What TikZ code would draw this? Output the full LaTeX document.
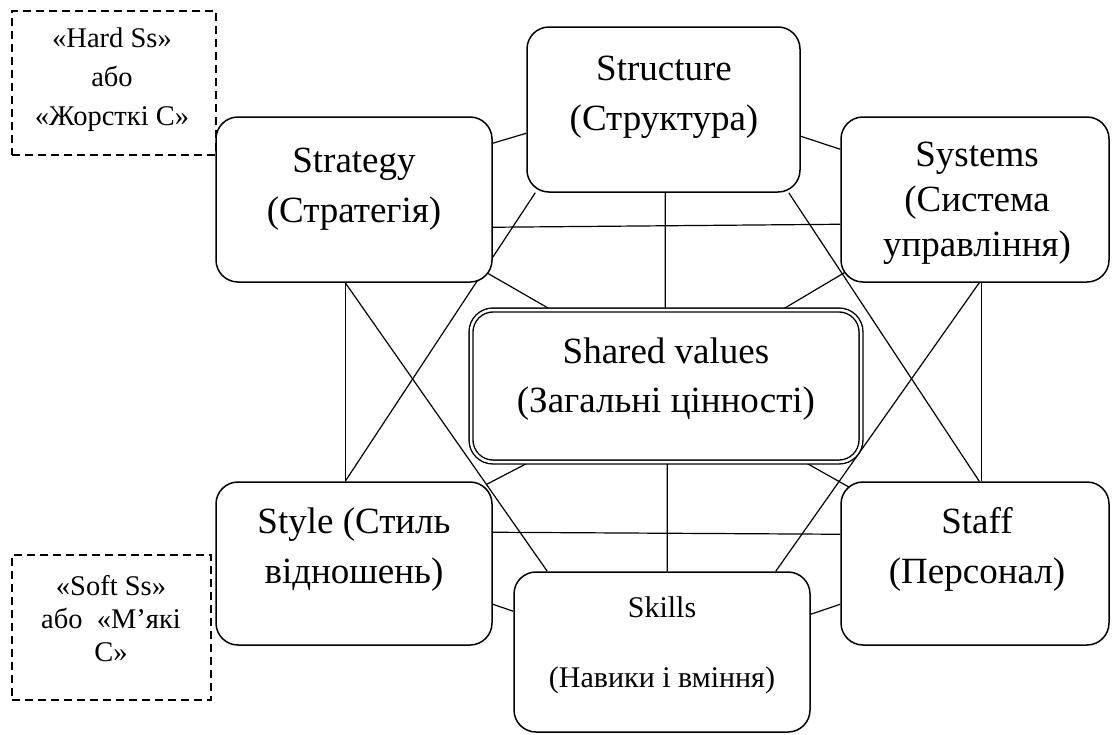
\documentclass[tikz,border=0pt]{standalone}
\usepackage{fontspec}
\setmainfont{Liberation Serif}
\usetikzlibrary{calc}
\pgfdeclarelayer{bg}
\pgfsetlayers{bg,main}
\begin{document}
\begin{tikzpicture}[x=1pt,y=-1pt,
  sbox/.style={draw, line width=1.5pt, rounded corners=22pt, fill=white, inner sep=0pt},
  conn/.style={line width=1.2pt},
  dbox/.style={draw, line width=1.3pt, dash pattern=on 8pt off 5pt, inner sep=0pt},
  bigtxt/.style={font=\fontsize{37}{50}\selectfont, align=center, inner sep=0pt},
  midtxt/.style={font=\fontsize{30}{70}\selectfont, align=center, inner sep=0pt},
  smalltxt/.style={font=\fontsize{28.5}{39}\selectfont, align=center, inner sep=0pt}]
\useasboundingbox (0,0) rectangle (1113,734);

% boxes
\node[sbox, minimum width=276pt, minimum height=165pt] (strategy) at (354,199.5) {};
\node[sbox, minimum width=273pt, minimum height=165pt] (structure) at (663.5,109.5) {};
\node[sbox, minimum width=268pt, minimum height=165pt] (systems) at (975,199.5) {};
\node[draw, double, double distance=2.5pt, line width=1.4pt, rounded corners=22pt, fill=white, inner sep=0pt,
      minimum width=390pt, minimum height=152pt] (shared) at (666,386) {};
\node[sbox, minimum width=276pt, minimum height=163pt] (style) at (354,563.5) {};
\node[sbox, minimum width=268pt, minimum height=163pt] (staff) at (975,563.5) {};
\node[sbox, minimum width=296pt, minimum height=160pt] (skills) at (662,652) {};

% texts
\node[bigtxt] (structureT) at (664,97) {Structure\\(Структура)};
\node[bigtxt] (strategyT) at (354,189) {Strategy\\(Стратегія)};
\node[bigtxt, font=\fontsize{37}{45}\selectfont] (systemsT) at (977,203) {Systems\\(Система\\управління)};
\node[bigtxt, font=\fontsize{37}{49}\selectfont] (sharedT) at (666,379) {Shared values\\(Загальні цінності)};
\node[bigtxt] (styleT) at (354,550) {Style (Стиль\\відношень)};
\node[bigtxt] (staffT) at (977,549) {Staff\\(Персонал)};
\node[midtxt] (skillsT) at (662,645) {Skills\\(Навики і вміння)};

\begin{pgfonlayer}{bg}
\node[dbox, minimum width=204pt, minimum height=144pt] (hard) at (114,83) {};
\node[dbox, minimum width=199pt, minimum height=145pt] (soft) at (111.5,627.5) {};

\draw[conn] ($(strategy.north east)+(0,27)$) -- ($(structure.north west)+(0,107)$);
\draw[conn] ($(strategy.north east)+(0,111)$) -- ($(systems.north west)+(0,108)$);
\draw[conn] ($(strategy.south east)+(-6,-10)$) -- ($(shared.north west)+(80,0)$);
\draw[conn] ($(strategy.south west)+(130,0)$) -- ($(style.north west)+(130,0)$);
\draw[conn] ($(strategy.south west)+(130,0)$) -- ($(skills.north west)+(34,0)$);
\draw[conn] ($(structure.south west)+(9,0)$) -- ($(style.north west)+(130,0)$);
\draw[conn] ($(structure.south west)+(139,0)$) -- ($(shared.north west)+(195,0)$);
\draw[conn] ($(structure.north east)+(0,110)$) -- ($(systems.north west)+(0,33)$);
\draw[conn] ($(structure.south east)+(-12,0)$) -- ($(staff.north west)+(139,0)$);
\draw[conn] ($(systems.south west)+(4,-10)$) -- ($(shared.north east)+(-79,0)$);
\draw[conn] ($(systems.south west)+(141,0)$) -- ($(staff.north west)+(141,0)$);
\draw[conn] ($(systems.south west)+(139,0)$) -- ($(skills.north east)+(-35,0)$);
\draw[conn] ($(style.north east)+(-6,3)$) -- ($(shared.south west)+(58,0)$);
\draw[conn] ($(style.north east)+(0,51)$) -- ($(staff.north west)+(0,53)$);
\draw[conn] ($(style.north east)+(0,123)$) -- ($(skills.north west)+(0,40)$);
\draw[conn] ($(shared.south west)+(197,0)$) -- ($(skills.north west)+(154,0)$);
\draw[conn] ($(shared.south east)+(-56,0)$) -- ($(staff.north west)+(9,6)$);
\draw[conn] ($(skills.north east)+(0,43)$) -- ($(staff.north west)+(0,123)$);
\end{pgfonlayer}

\node[smalltxt] (hardT) at (112,80) {«Hard Ss»\\або\\«Жорсткі С»};
\node[smalltxt, font=\fontsize{28.5}{33}\selectfont] (softT) at (111,619) {«Soft Ss»\\або~~«М’які\\С»};
\end{tikzpicture}
\end{document}
